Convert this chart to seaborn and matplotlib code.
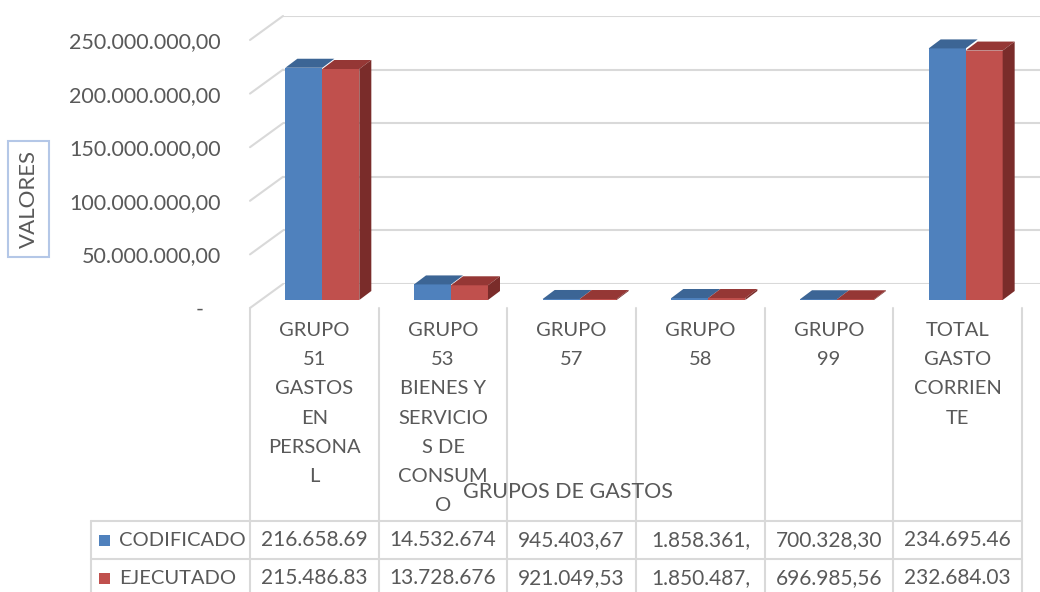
import matplotlib
matplotlib.use('Agg')
import matplotlib.pyplot as plt
import numpy as np
import pandas as pd
import seaborn as sns
from matplotlib.patches import Polygon, Rectangle
from matplotlib.ticker import FuncFormatter
from matplotlib.colors import to_rgba

grupos = ['GRUPO 51', 'GRUPO 53', 'GRUPO 57', 'GRUPO 58', 'GRUPO 99', 'TOTAL']
etiquetas = ['GRUPO\n51\nGASTOS\nEN\nPERSONA\nL',
             'GRUPO\n53\nBIENES Y\nSERVICIO\nS DE\nCONSUM\nO',
             'GRUPO\n57', 'GRUPO\n58', 'GRUPO\n99',
             'TOTAL\nGASTO\nCORRIEN\nTE']
series = ['CODIFICADO', 'EJECUTADO']
codificado = [216658690.0, 14532674.0, 945403.67, 1858361.0, 700328.30, 234695460.0]
ejecutado = [215486830.0, 13728676.0, 921049.53, 1850487.0, 696985.56, 232684030.0]
texto_cod = ['216.658.69', '14.532.674', '945.403,67', '1.858.361,', '700.328,30', '234.695.46']
texto_eje = ['215.486.83', '13.728.676', '921.049,53', '1.850.487,', '696.985,56', '232.684.03']
yticks = [0, 50e6, 100e6, 150e6, 200e6, 250e6]

azul, rojo = '#4F81BD', '#C0504D'
azul_top, rojo_top, rojo_lado = '#3C6595', '#953735', '#7A2C2A'
gris_txt, gris_lin = '#595959', '#D9D9D9'

df = pd.DataFrame({'grupo': grupos * 2,
                   'serie': [series[0]] * 6 + [series[1]] * 6,
                   'valor': codificado + ejecutado})

sns.set_style('white')
plt.rcParams['font.family'] = ['Lato', 'DejaVu Sans']
FS = 14.5

W, H = 1040, 592
fig = plt.figure(figsize=(W / 100, H / 100), dpi=100)


def rect(left, top, width, height):
    # pixel box (from top-left) -> figure fraction
    return [left / W, 1 - (top + height) / H, width / W, height / H]


# back wall with gridlines
ax_wall = fig.add_axes(rect(283, 16, W - 283, 268), zorder=0)
ax_wall.set_ylim(0, 250e6)
ax_wall.set_yticks(yticks)
ax_wall.yaxis.grid(True, color=gris_lin, lw=1.5)
ax_wall.set_xticks([])
ax_wall.tick_params(left=False, labelleft=False)
for s in ax_wall.spines.values():
    s.set_visible(False)
ax_wall.patch.set_alpha(0)

# front plane: y labels
ax_front = fig.add_axes(rect(250, 40, 772, 268), zorder=1)
ax_front.set_xlim(-0.5, 5.5)
ax_front.set_ylim(0, 250e6)
ax_front.set_yticks(yticks)


def fmt(v, pos):
    if v == 0:
        return '-   '
    s = f'{v:,.2f}'
    return s.replace(',', 'X').replace('.', ',').replace('X', '.')


ax_front.yaxis.set_major_formatter(FuncFormatter(fmt))
ax_front.tick_params(axis='y', length=0, pad=21, labelsize=15.5, labelcolor=gris_txt)
ax_front.set_xticks([])
for s in ax_front.spines.values():
    s.set_visible(False)
ax_front.patch.set_alpha(0)

# bars (front faces)
ax_bars = fig.add_axes(rect(258, 32, 772, 268), zorder=2)
sns.barplot(data=df, x='grupo', y='valor', hue='serie', palette=[azul, rojo],
            width=0.575, saturation=1, legend=False, ax=ax_bars, linewidth=0)
ax_bars.set_xlim(-0.5, 5.5)
ax_bars.set_ylim(0, 250e6)
ax_bars.set_axis_off()

# pixel overlay
ax_px = fig.add_axes([0, 0, 1, 1], zorder=3)
ax_px.set_xlim(0, W)
ax_px.set_ylim(H, 0)
ax_px.set_axis_off()
ax_px.patch.set_alpha(0)


def to_px(ax, x, y):
    dx, dy = ax.transData.transform((x, y))
    return dx, H - dy


# 3D tops and sides
DX, DY = 12, 9
bars = sorted(ax_bars.patches, key=lambda p: (p.get_x()))
for p in bars:
    x0, w, h = p.get_x(), p.get_width(), p.get_height()
    a, t = to_px(ax_bars, x0, h)
    b, base = to_px(ax_bars, x0 + w, 0)
    es_rojo = np.allclose(p.get_facecolor(), to_rgba(rojo))
    top = [(a, t), (b, t), (b + DX, t - DY), (a + DX, t - DY)]
    ax_px.add_patch(Polygon(top, closed=True, fc=rojo_top if es_rojo else azul_top, ec='none'))
    if es_rojo:
        lado = [(b, base), (b, t), (b + DX, t - DY), (b + DX, base - DY)]
        ax_px.add_patch(Polygon(lado, closed=True, fc=rojo_lado, ec='none'))

# side wall diagonals
for v in yticks:
    x1, y1 = to_px(ax_front, -0.5, v)
    ax_px.plot([x1, x1 + 33], [y1, y1 - 24], color=gris_lin, lw=1.5)

# data table
bordes = [to_px(ax_front, i - 0.5, 0)[0] for i in range(7)]
centros = [to_px(ax_front, i, 0)[0] for i in range(6)]
_, y0 = to_px(ax_front, 0, 0)
for xb in bordes:
    ax_px.plot([xb, xb], [y0, H], color=gris_lin, lw=1.5)
for yl in [521, 559]:
    ax_px.plot([91, bordes[-1]], [yl, yl], color=gris_lin, lw=1.5)
ax_px.plot([91, 91], [521, H], color=gris_lin, lw=1.5)

for xc, lab in zip(centros, etiquetas):
    ax_px.text(xc, 322, lab, ha='center', va='top', fontsize=FS, color=gris_txt,
               linespacing=1.87)
for xc, t1, t2 in zip(centros, texto_cod, texto_eje):
    ax_px.text(xc, 540, t1, ha='center', va='center', fontsize=15, color=gris_txt)
    ax_px.text(xc, 578, t2, ha='center', va='center', fontsize=15, color=gris_txt)

for yc, nom, col in [(540, series[0], azul), (578, series[1], rojo)]:
    ax_px.add_patch(Rectangle((99, yc - 5.5), 11, 11, fc=col, ec='none'))
    ax_px.text(119, yc, nom, ha='left', va='center', fontsize=FS, color=gris_txt)

ax_px.text(568, 492, 'GRUPOS DE GASTOS', ha='center', va='center', fontsize=15.5, color=gris_txt)

# y axis title in a box
ax_px.add_patch(Rectangle((8, 141), 41, 116, fc='none', ec='#B4C7E7', lw=1.5))
ax_px.text(29, 199, 'VALORES', rotation=90, ha='center', va='center', fontsize=16, color=gris_txt)

fig.savefig('out.png', dpi=100)
